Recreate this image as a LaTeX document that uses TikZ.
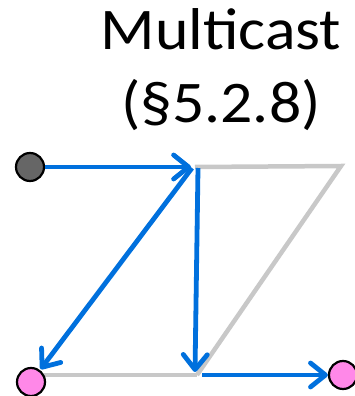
\documentclass[tikz,border=0pt]{standalone}
\usepackage{fontspec}
\newfontfamily\titlefont[FakeStretch=1.08]{Carlito}
\usetikzlibrary{arrows.meta}
\definecolor{flowblue}{RGB}{0,112,221}
\definecolor{edgegray}{RGB}{200,200,200}
\definecolor{sinkpink}{RGB}{255,136,232}
\definecolor{srcgray}{RGB}{102,102,102}
\begin{document}
\begin{tikzpicture}[x=1pt,y=-1pt,
  hostnode/.style={circle,draw=black,line width=2.2pt,minimum size=28pt,inner sep=0pt},
  graylink/.style={draw=edgegray,line width=4.5pt},
  flow/.style={draw=flowblue,line width=4.8pt,
    -{Straight Barb[length=15pt,width=24pt,line cap=round,line join=round]}},
  title/.style={font=\titlefont\fontsize{59}{72}\selectfont,inner sep=0pt,anchor=base}]
\useasboundingbox (0,0) rectangle (354,396);

% heading
\node[title] (head1) at (221,49) {Multicast};
\node[title] (head2) at (221,122) {(§5.2.8)};

% junctions of the network
\coordinate (T)  at (195,167);
\coordinate (TR) at (341,166);
\coordinate (B)  at (197,375);
\coordinate (BL) at (40,375);

% gray links
\draw[graylink,line cap=butt] (BL) -- (B);
\draw[graylink,line join=miter] (B) -- (TR) -- (T);

% hosts
\node[hostnode,fill=srcgray]  (src)  at (30,167) {};
\node[hostnode,fill=sinkpink] (dstA) at (31,382) {};
\node[hostnode,fill=sinkpink] (dstB) at (343,375) {};

% multicast flows
\coordinate (Tin)   at (191,167);
\coordinate (Tdiag) at (192,168);
\coordinate (Tdown) at (198,168);
\coordinate (Bdown) at (195,372);
\coordinate (Bout)  at (202,375);
\draw[flow] (src) -- (Tin);
\draw[flow,shorten >=1pt] (Tdiag) -- (dstA);
\draw[flow] (Tdown) -- (Bdown);
\draw[flow] (Bout) -- (dstB);
\end{tikzpicture}
\end{document}
